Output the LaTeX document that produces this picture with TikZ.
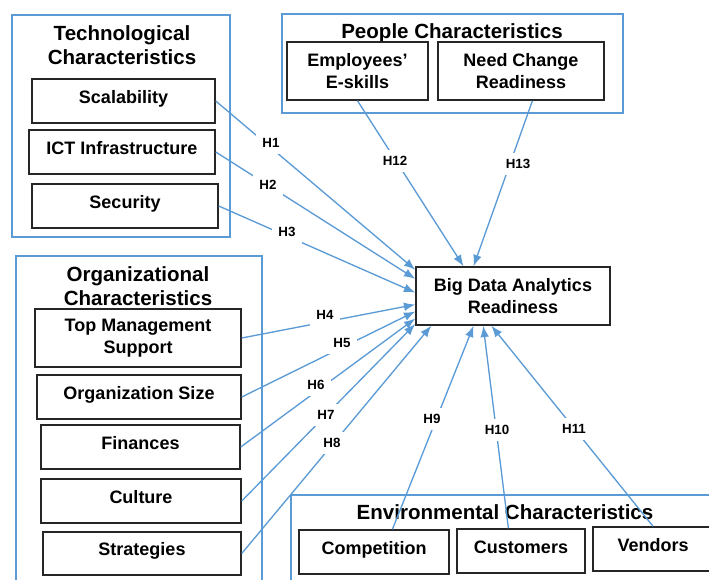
\documentclass[tikz,border=0pt]{standalone}
\usepackage{fontspec}
\setmainfont{Liberation Sans}
\usetikzlibrary{arrows.meta}
\definecolor{linkblue}{HTML}{5B9BD5}
\definecolor{boxgray}{HTML}{262626}

\begin{document}
\begin{tikzpicture}[x=0.75pt, y=-0.75pt, >={Latex[length=8.5pt,width=6.5pt]},
	group/.style={draw=linkblue, line width=1.1pt},
	gtitle/.style={align=center, font=\fontsize{15.4}{18.2}\selectfont\bfseries},
	item/.style={draw=boxgray, line width=1.1pt, align=center, inner sep=0pt,
		font=\fontsize{13.5}{16.5}\selectfont\bfseries, minimum height=33pt},
	oneline/.style={text height=8pt, text depth=5pt},
	link/.style={draw=linkblue, line width=1pt, ->},
	hyp/.style={fill=white, inner sep=5pt, font=\fontsize{10}{12}\selectfont\bfseries}]
	%%%	Frame
	\clip (0,0) rectangle (709,579);
	%%%	Groups
	% Technological
	\draw[group] (12,15) rectangle (230,237);
	\node[gtitle] (techtitle) at (122,45) {Technological\\Characteristics};
	\node[item, minimum width=137.25pt, oneline] (scal) at (123.5,101) {Scalability};
	\node[item, minimum width=139.5pt, oneline] (ict) at (122,152) {ICT Infrastructure};
	\node[item, minimum width=139.5pt, oneline] (sec) at (125,206) {Security};
	
	% People
	\draw[group] (282,14) rectangle (623,113);
	\node[gtitle] (peoptitle) at (452,33) {People Characteristics};
	\node[item, minimum width=105.75pt, minimum height=43.5pt] (emp) at (357.5,71) {Employees'\\E-skills};
	\node[item, minimum width=124.5pt, minimum height=43.5pt] (need) at (521,71) {Need Change\\Readiness};
	
	% Organizational
	\draw[group] (16,256) rectangle (262,600);
	\node[gtitle] (orgtitle) at (138,286) {Organizational\\Characteristics};
	\node[item, minimum width=154.5pt, minimum height=43.5pt] (tms) at (138,338) {Top Management\\Support};
	\node[item, minimum width=153pt, oneline] (osz) at (139,397) {Organization Size};
	\node[item, minimum width=149.25pt, oneline] (fin) at (140.5,447) {Finances};
	\node[item, minimum width=150pt, oneline] (cul) at (141,501) {Culture};
	\node[item, minimum width=148.5pt, minimum height=32.25pt, oneline] (str) at (142,553.5) {Strategies};
	
	% Environmental
	\draw[group] (291,495) rectangle (730,600);
	\node[gtitle] (envtitle) at (505,512) {Environmental Characteristics};
	\node[item, minimum width=112.5pt, oneline] (comp) at (374,552) {Competition};
	\node[item, minimum width=96pt, oneline] (cust) at (521,551) {Customers};
	\node[item, minimum width=90pt, oneline] (vend) at (653,549) {Vendors};
	
	% Readiness
	\node[item, minimum width=145.5pt, minimum height=43.5pt] (bda) at (513,296) {Big Data Analytics\\Readiness};
	
	%%%	Hypotheses
	\draw[link] (scal.east) -- (bda.165);
	\draw[link] (ict.east) -- (bda.170);
	\draw[link] (sec.east) -- (bda.178);
	\draw[link] (tms.east) -- (bda.185);
	\draw[link] (osz.east) -- (bda.189);
	\draw[link] (fin.east) -- (bda.193);
	\draw[link] (cul.east) -- (bda.196);
	\draw[link] (str.east) -- (bda.200);
	\draw[link] (comp.51) -- (bda.217);
	\draw[link] (cust.119) -- (bda.225);
	\draw[link] (vend.north) -- (bda.234);
	\draw[link] (emp.south) -- (bda.149);
	\draw[link] (need.291) -- (bda.143);
	
	\foreach \hx/\hy/\hn in {271/143/1, 268/185/2, 287/232/3, 325/315/4, 342/343/5,
		316/385/6, 326/415/7, 332/443/8, 432/419/9, 497/430/10, 574/429/11,
		395/161/12, 518/164/13}
	\node[hyp] (h\hn) at (\hx,\hy) {H\hn};
	
\end{tikzpicture}
\end{document}
